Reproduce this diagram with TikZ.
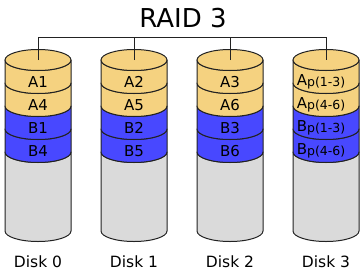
\documentclass[tikz,border=0pt]{standalone}
\usepackage{fontspec}
\setmainfont{DejaVu Sans}
\definecolor{diskyellow}{RGB}{245,210,128}
\definecolor{diskblue}{RGB}{72,72,255}
\definecolor{diskgray}{RGB}{218,218,218}
\definecolor{edge}{RGB}{34,34,34}
\newcommand{\bandfill}[5]{% cx, ytop, ybot, color, name
  \path[bandstyle, fill=#4] (#1-33, #2) -- (#1-33, #3)
     arc[start angle=180, end angle=360, x radius=33, y radius=10.5]
     -- (#1+33, #2)
     arc[start angle=0, end angle=-180, x radius=33, y radius=10.5] -- cycle;
}
\newcommand{\parlab}[2]{\fontsize{15}{18}\selectfont #1\raisebox{-0.5pt}{\fontsize{12.5}{14}\selectfont p(#2)}}
\begin{document}
\begin{tikzpicture}[x=1pt,y=1pt,
  bandstyle/.style={draw=edge, line width=1pt, line join=round},
  bus/.style={draw=edge, line width=0.9pt},
  celllabel/.style={font=\fontsize{15}{18}\selectfont, inner sep=0pt},
  disklabel/.style={font=\fontsize{15.5}{18}\selectfont, anchor=base, inner sep=0pt},
  titlestyle/.style={font=\fontsize{26}{30}\selectfont, anchor=base, inner sep=0pt}]
\useasboundingbox (0,0) rectangle (364,277);
\node[titlestyle] (title) at (183,250) {RAID 3};
\foreach \i/\cx in {0/38,1/134,2/230,3/326}{
  \bandfill{\cx}{125}{46}{diskgray}{}
  \bandfill{\cx}{148}{125}{diskblue}{}
  \bandfill{\cx}{171}{148}{diskblue}{}
  \bandfill{\cx}{194}{171}{diskyellow}{}
  \bandfill{\cx}{217}{194}{diskyellow}{}
  \path[bandstyle, fill=diskyellow] (\cx,217) ellipse[x radius=33, y radius=10.5];
  \coordinate (top\i) at (\cx,217);
  \coordinate (bus\i) at (\cx,240);
  \node[disklabel] (disk\i) at (\cx,10) {Disk \i};
}
\draw[bus] (top0) -- (bus0) -- (bus3) -- (top3);
\draw[bus] (top1) -- (bus1);
\draw[bus] (top2) -- (bus2);
\node[celllabel] (a1) at (38,195) {A1};
\node[celllabel] (a4) at (38,172) {A4};
\node[celllabel] (b1) at (38,149) {B1};
\node[celllabel] (b4) at (38,126) {B4};
\node[celllabel] (a2) at (134,195) {A2};
\node[celllabel] (a5) at (134,172) {A5};
\node[celllabel] (b2) at (134,149) {B2};
\node[celllabel] (b5) at (134,126) {B5};
\node[celllabel] (a3) at (230,195) {A3};
\node[celllabel] (a6) at (230,172) {A6};
\node[celllabel] (b3) at (230,149) {B3};
\node[celllabel] (b6) at (230,126) {B6};
\node[celllabel] (ap13) at (321,195) {\parlab{A}{1-3}};
\node[celllabel] (ap46) at (321,172) {\parlab{A}{4-6}};
\node[celllabel] (bp13) at (321,149) {\parlab{B}{1-3}};
\node[celllabel] (bp46) at (321,126) {\parlab{B}{4-6}};
\end{tikzpicture}
\end{document}
